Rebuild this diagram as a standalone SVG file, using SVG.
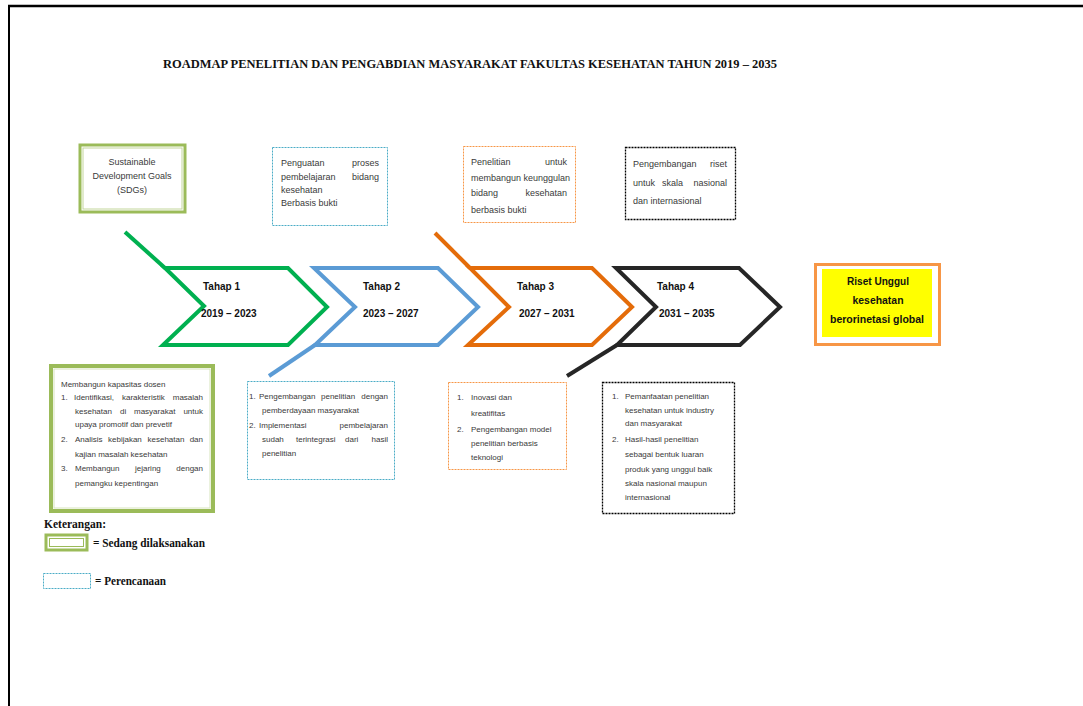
<svg xmlns="http://www.w3.org/2000/svg" width="1083" height="706" viewBox="0 0 1083 706">
<style>
.t{font-family:"Liberation Sans",Arial,sans-serif;font-size:8px;fill:#3a3a3a}
.u{font-family:"Liberation Sans",Arial,sans-serif;font-size:9px;fill:#3a3a3a}
.e{text-anchor:end}
.tb{font-family:"Liberation Sans",Arial,sans-serif;font-size:10px;font-weight:bold;fill:#111}
.ser{font-family:"Liberation Serif","Times New Roman",serif;font-weight:bold;fill:#111}
.chev{fill:none;stroke-width:4;stroke-linejoin:miter}
.ln{fill:none;stroke-width:4;stroke-linecap:butt}
</style>
<rect x="0" y="0" width="1083" height="706" fill="#fff"/>
<g id="frame">
<line x1="8" y1="6" x2="1083" y2="6" stroke="#000" stroke-width="2.5"/>
<line x1="9" y1="6" x2="9" y2="706" stroke="#000" stroke-width="2"/>
</g>
<text id="title" class="ser" x="163" y="68" font-size="13" textLength="614" lengthAdjust="spacingAndGlyphs">ROADMAP PENELITIAN DAN PENGABDIAN MASYARAKAT FAKULTAS KESEHATAN  TAHUN 2019 – 2035</text>

<g id="connectors">
<line class="ln" x1="125" y1="232" x2="165" y2="268" stroke="#00B050"/>
<line class="ln" x1="315" y1="345" x2="269" y2="376" stroke="#5B9BD5"/>
<line class="ln" x1="435" y1="233" x2="470" y2="268" stroke="#E46C0A"/>
<line class="ln" x1="617" y1="345" x2="567" y2="376" stroke="#262626"/>
</g>

<g id="sdgs">
<rect x="80" y="145" width="105" height="67" fill="#fff" stroke="#9BBB59" stroke-width="3"/>
<rect x="83" y="148" width="99" height="61" fill="none" stroke="#C3D69B" stroke-width="1"/>
<text class="u" font-size="8.5" text-anchor="middle" x="132" y="165">Sustainable</text>
<text class="u" font-size="8.5" text-anchor="middle" x="132" y="179">Development Goals</text>
<text class="u" font-size="8.5" text-anchor="middle" x="132" y="193">(SDGs)</text>
</g>

<g id="plan1">
<rect x="272.5" y="147.5" width="115" height="78" fill="#fff" stroke="#4BACC6" stroke-width="1" stroke-dasharray="2,1"/>
<text class="u" x="281" y="166">Penguatan</text><text class="u e" x="379" y="166">proses</text>
<text class="u" x="281" y="180">pembelajaran</text><text class="u e" x="379" y="180">bidang</text>
<text class="u" x="281" y="193">kesehatan</text>
<text class="u" x="281" y="206">Berbasis bukti</text>
</g>

<g id="plan2">
<rect x="463.5" y="146.5" width="112" height="76" fill="#fff" stroke="#F79646" stroke-width="1" stroke-dasharray="2,1"/>
<text class="u" font-size="8.5" x="471" y="165">Penelitian</text><text class="u e" font-size="8.5" x="567" y="165">untuk</text>
<text class="u" font-size="8.2" x="471" y="181">membangun keunggulan</text>
<text class="u" font-size="8.5" x="471" y="196">bidang</text><text class="u e" font-size="8.5" x="567" y="196">kesehatan</text>
<text class="u" font-size="8.5" x="471" y="213">berbasis bukti</text>
</g>

<g id="plan3">
<rect x="625.5" y="147.5" width="110" height="72" fill="#fff" stroke="#000" stroke-width="1.3" stroke-dasharray="2,1"/>
<text class="u" font-size="9.5" x="633" y="166.5">Pengembangan</text><text class="u e" font-size="9.5" x="727" y="166.5">riset</text>
<text class="u" font-size="9.5" x="633" y="185.5">untuk</text><text class="u" font-size="9.5" x="662" y="185.5">skala</text><text class="u e" font-size="9.5" x="727" y="185.5">nasional</text>
<text class="u" font-size="9.5" x="633" y="203.5">dan internasional</text>
</g>

<g id="tahap1">
<polygon class="chev" stroke="#00B050" points="165,268 288,268 327,307 288,345 163,345 204,306"/>
<text class="tb" x="203" y="290">Tahap 1</text>
<text class="tb" x="201" y="317">2019 – 2023</text>
</g>
<g id="tahap2">
<polygon class="chev" stroke="#5B9BD5" points="314,268 438,268 478,307 438,345 315,345 355,307"/>
<text class="tb" x="363" y="290">Tahap 2</text>
<text class="tb" x="363" y="317">2023 – 2027</text>
</g>
<g id="tahap3">
<polygon class="chev" stroke="#E46C0A" points="470,268 592,268 632,307 592,345 468,345 509,307"/>
<text class="tb" x="517" y="290">Tahap 3</text>
<text class="tb" x="519" y="317">2027 – 2031</text>
</g>
<g id="tahap4">
<polygon class="chev" stroke="#262626" points="616,268 739,268 780,307 740,345 617,345 656,307"/>
<text class="tb" x="657" y="290">Tahap 4</text>
<text class="tb" x="659" y="317">2031 – 2035</text>
</g>

<g id="goal">
<rect x="815.5" y="264.5" width="124" height="80" fill="#fff" stroke="#F79646" stroke-width="3"/>
<rect x="822" y="269" width="110" height="68" fill="#FFFF00"/>
<text class="tb" font-size="11" text-anchor="middle" x="878" y="285" textLength="62" lengthAdjust="spacingAndGlyphs">Riset Unggul</text>
<text class="tb" font-size="11" text-anchor="middle" x="878" y="304" textLength="51" lengthAdjust="spacingAndGlyphs">kesehatan</text>
<text class="tb" font-size="11" text-anchor="middle" x="877" y="323" textLength="94" lengthAdjust="spacingAndGlyphs">berorinetasi global</text>
</g>

<g id="act1">
<rect x="51" y="366" width="162" height="145" fill="#fff" stroke="#9BBB59" stroke-width="4"/>
<rect x="54" y="369" width="156" height="139" fill="none" stroke="#D7E4BD" stroke-width="1"/>
<text class="t" x="61" y="387">Membangun kapasitas dosen</text>
<text class="t" x="61" y="400">1.</text>
<text class="t" x="74" y="400">Identifikasi,</text><text class="t" x="122" y="400">karakteristik</text><text class="t e" x="203" y="400">masalah</text>
<text class="t" x="75" y="414">kesehatan</text><text class="t" x="120" y="414">di</text><text class="t" x="134" y="414">masyarakat</text><text class="t e" x="203" y="414">untuk</text>
<text class="t" x="75" y="427">upaya promotif dan prevetif</text>
<text class="t" x="61" y="442">2.</text>
<text class="t" x="75" y="442">Analisis</text><text class="t" x="108" y="442">kebijakan</text><text class="t" x="147.5" y="442">kesehatan</text><text class="t e" x="203" y="442">dan</text>
<text class="t" x="75" y="457">kajian masalah kesehatan</text>
<text class="t" x="61" y="471">3.</text>
<text class="t" x="75" y="471">Membangun</text><text class="t" x="135" y="471">jejaring</text><text class="t e" x="203" y="471">dengan</text>
<text class="t" x="75" y="486">pemangku kepentingan</text>
</g>

<g id="act2">
<rect x="247.5" y="381.5" width="147" height="98" fill="#fff" stroke="#4BACC6" stroke-width="1" stroke-dasharray="2,1"/>
<text class="t" x="249" y="399">1.</text>
<text class="t" x="259" y="399">Pengembangan</text><text class="t" x="321" y="399">penelitian</text><text class="t e" x="388" y="399">dengan</text>
<text class="t" x="262" y="413">pemberdayaan masyarakat</text>
<text class="t" x="249" y="428">2.</text>
<text class="t" x="259" y="428">Implementasi</text><text class="t e" x="388" y="428">pembelajaran</text>
<text class="t" x="262" y="442">sudah</text><text class="t" x="296" y="442">terintegrasi</text><text class="t" x="345" y="442">dari</text><text class="t e" x="388" y="442">hasil</text>
<text class="t" x="262" y="456">penelitian</text>
</g>

<g id="act3">
<rect x="448.5" y="382.5" width="118" height="87" fill="#fff" stroke="#F79646" stroke-width="1" stroke-dasharray="2,1"/>
<text class="t" x="457" y="400">1.</text>
<text class="t" x="471" y="400">Inovasi dan</text>
<text class="t" x="471" y="416">kreatifitas</text>
<text class="t" x="457" y="432">2.</text>
<text class="t" x="471" y="432">Pengembangan model</text>
<text class="t" x="471" y="446">penelitian berbasis</text>
<text class="t" x="471" y="460">teknologi</text>
</g>

<g id="act4">
<rect x="602.5" y="382.5" width="132" height="131" fill="#fff" stroke="#000" stroke-width="1.3" stroke-dasharray="2,1"/>
<text class="t" x="612" y="399">1.</text>
<text class="t" x="625" y="399">Pemanfaatan penelitian</text>
<text class="t" x="625" y="413">kesehatan untuk industry</text>
<text class="t" x="625" y="426">dan masyarakat</text>
<text class="t" x="612" y="442">2.</text>
<text class="t" x="625" y="442">Hasil-hasil penelitian</text>
<text class="t" x="625" y="457">sebagai bentuk luaran</text>
<text class="t" x="625" y="472">produk yang unggul baik</text>
<text class="t" x="625" y="486">skala nasional maupun</text>
<text class="t" x="625" y="500">internasional</text>
</g>

<g id="legend">
<text class="ser" x="44" y="528" font-size="12" textLength="62" lengthAdjust="spacingAndGlyphs">Keterangan:</text>
<rect x="46" y="535" width="41" height="15" fill="#fff" stroke="#9BBB59" stroke-width="3"/>
<rect x="49.5" y="538.5" width="34" height="8" fill="none" stroke="#9BBB59" stroke-width="1"/>
<text class="ser" x="93" y="547" font-size="12" textLength="112" lengthAdjust="spacingAndGlyphs">=  Sedang dilaksanakan</text>
<rect x="43.5" y="573.5" width="47" height="15" fill="#fff" stroke="#4BACC6" stroke-width="1" stroke-dasharray="2,1"/>
<text class="ser" x="95" y="585" font-size="12" textLength="71" lengthAdjust="spacingAndGlyphs">= Perencanaan</text>
</g>
</svg>
